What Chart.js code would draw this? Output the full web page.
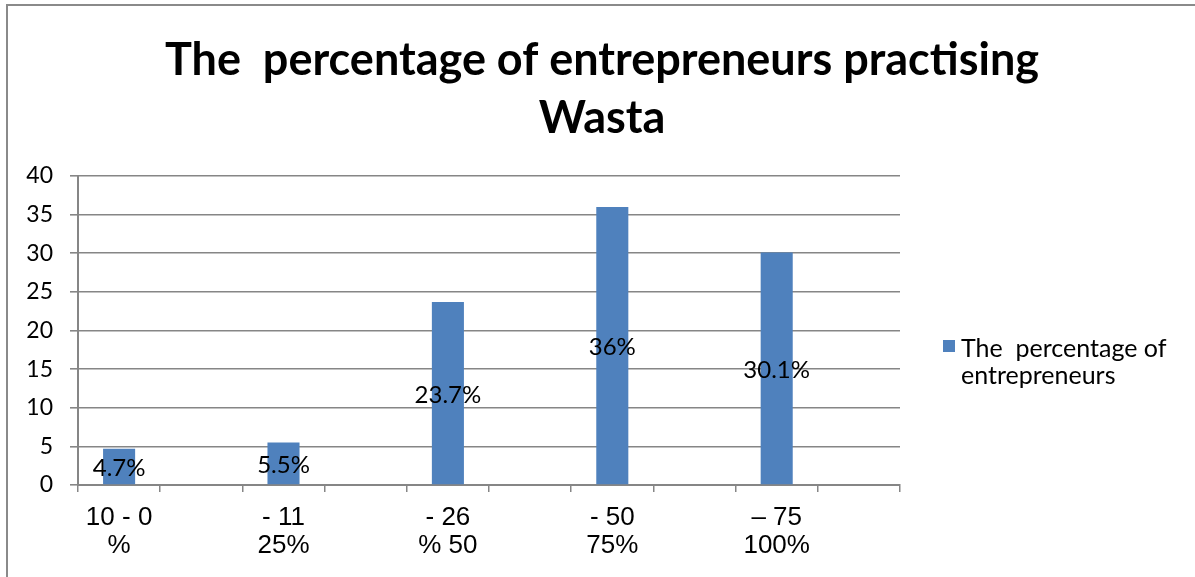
<!DOCTYPE html>
<html>
<head>
<meta charset="utf-8">
<script src="https://cdn.jsdelivr.net/npm/chart.js@4/dist/chart.umd.min.js"></script>
<style>
  html, body { margin: 0; padding: 0; background: #fff; }
  #wrap { width: 1195px; height: 577px; position: relative; }
  canvas { display: block; }
</style>
</head>
<body>
<div id="wrap"><canvas id="c" width="1195" height="577"></canvas></div>
<script>
// Chart content
const titleLines = ['The  percentage of entrepreneurs practising', 'Wasta'];
const seriesName = 'The  percentage of entrepreneurs';
const legendLines = ['The  percentage of', 'entrepreneurs'];
const rangeLabels = [['10 - 0', '%'], ['- 11', '25%'], ['- 26', '% 50'], ['- 50', '75%'], ['\u2013 75', '100%']];
const percentages = [4.7, 5.5, 23.7, 36, 30.1];
const yMax = 40;
const yStep = 5;

const BAR_BLUE = '#4F81BD';
const AXIS_GREY = '#868686';

// Every range is followed by an empty slot on the category axis
const labels = [];
const values = [];
rangeLabels.forEach((lbl, i) => {
  labels.push(lbl, '');
  values.push(percentages[i], null);
});

// Outer frame (top and left edges) on a white background
const framePlugin = {
  id: 'frame',
  beforeDraw(chart) {
    const ctx = chart.ctx;
    ctx.save();
    ctx.fillStyle = '#fff';
    ctx.fillRect(0, 0, chart.width, chart.height);
    ctx.strokeStyle = '#8a8a8a';
    ctx.lineWidth = 2;
    ctx.beginPath();
    ctx.moveTo(7, chart.height);
    ctx.lineTo(7, 5);
    ctx.lineTo(chart.width, 5);
    ctx.stroke();
    ctx.restore();
  }
};

// Two-line bold heading
const headingPlugin = {
  id: 'heading',
  afterDraw(chart) {
    const ctx = chart.ctx;
    ctx.save();
    ctx.fillStyle = '#000';
    ctx.font = 'bold 45px Lato';
    ctx.textAlign = 'center';
    ctx.textBaseline = 'alphabetic';
    ctx.fillText(titleLines[0], 602, 75);
    ctx.fillText(titleLines[1], 602, 133);
    ctx.restore();
  }
};

// Value label centred inside each bar
const valueLabelPlugin = {
  id: 'valueLabels',
  afterDatasetsDraw(chart) {
    const ctx = chart.ctx;
    const meta = chart.getDatasetMeta(0);
    const data = chart.data.datasets[0].data;
    ctx.save();
    ctx.fillStyle = '#000';
    ctx.font = '24px Lato';
    ctx.textAlign = 'center';
    ctx.textBaseline = 'middle';
    meta.data.forEach((bar, i) => {
      const v = data[i];
      if (v === null || v === undefined) return;
      const p = bar.getProps(['x', 'y', 'base'], true);
      ctx.fillText(v + '%', p.x, (p.y + p.base) / 2 + 2);
    });
    ctx.restore();
  }
};

// Legend on the right, wrapped over two lines
const sideLegendPlugin = {
  id: 'sideLegend',
  afterDraw(chart) {
    const ctx = chart.ctx;
    const ds = chart.data.datasets[0];
    const x0 = chart.chartArea.right + 43;
    ctx.save();
    ctx.fillStyle = ds.backgroundColor;
    ctx.fillRect(x0, 340, 12, 12);
    ctx.fillStyle = '#000';
    ctx.font = '25px Lato';
    ctx.textAlign = 'left';
    ctx.textBaseline = 'alphabetic';
    ctx.fillText(legendLines[0], x0 + 18, 357);
    ctx.fillText(legendLines[1], x0 + 18, 384);
    ctx.restore();
  }
};

function build() {
  const ctx = document.getElementById('c').getContext('2d');
  new Chart(ctx, {
    type: 'bar',
    data: {
      labels: labels,
      datasets: [{
        label: seriesName,
        data: values,
        backgroundColor: BAR_BLUE,
        borderWidth: 0,
        barPercentage: 0.39,
        categoryPercentage: 1
      }]
    },
    options: {
      responsive: false,
      animation: false,
      layout: { padding: { top: 176, right: 295, left: 0, bottom: 0 } },
      plugins: {
        legend: { display: false },
        title: { display: false },
        tooltip: { enabled: false }
      },
      scales: {
        x: {
          grid: {
            offset: true,
            drawOnChartArea: false,
            drawTicks: true,
            tickLength: 7,
            color: AXIS_GREY,
            lineWidth: 1.5
          },
          border: { color: AXIS_GREY, width: 2 },
          ticks: {
            autoSkip: false,
            maxRotation: 0,
            minRotation: 0,
            color: '#000',
            padding: 12,
            font: { family: 'Liberation Sans', size: 26, lineHeight: 1.08 }
          },
          afterFit(scale) { scale.height = 92; }
        },
        y: {
          min: 0,
          max: yMax,
          ticks: {
            stepSize: yStep,
            color: '#000',
            padding: 17,
            font: { family: 'Lato', size: 23 }
          },
          grid: { color: AXIS_GREY, lineWidth: 1.6, tickLength: 8 },
          border: { color: AXIS_GREY, width: 2 },
          afterFit(scale) { scale.width = 78; }
        }
      }
    },
    plugins: [framePlugin, headingPlugin, valueLabelPlugin, sideLegendPlugin]
  });
}

Promise.all([
  document.fonts.load('bold 45px Lato'),
  document.fonts.load('24px Lato'),
  document.fonts.load('26px "Liberation Sans"')
]).then(build, build);
</script>
</body>
</html>
